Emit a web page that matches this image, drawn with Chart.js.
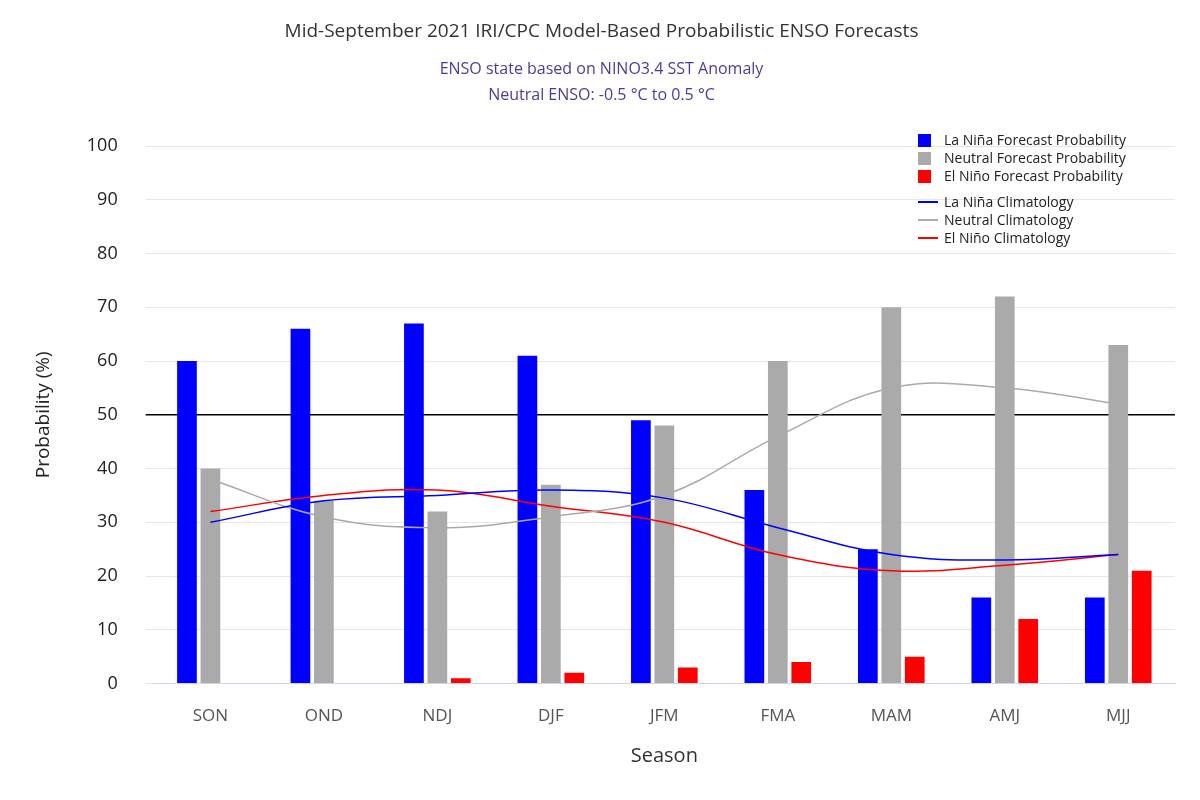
<!DOCTYPE html>
<html><head><meta charset="utf-8">
<script src="https://cdn.jsdelivr.net/npm/chart.js@4"></script>
<style>
body{margin:0;background:#fff;font-family:"Open Sans",sans-serif;}
#wrap{position:relative;width:1200px;height:800px;}
#legend{position:absolute;left:918px;top:131px;font-size:14px;color:#222;line-height:18px;}
#legend div{display:flex;align-items:center;}
.sq{width:13px;height:13px;margin-right:13px;}
.ln{width:20px;height:2px;margin-right:6px;}
</style></head><body>
<div id="wrap"><canvas id="c" width="1200" height="800"></canvas>
<div id="legend">
<div><span class="sq" style="background:#0000ff"></span>La Niña Forecast Probability</div>
<div><span class="sq" style="background:#aaaaaa"></span>Neutral Forecast Probability</div>
<div><span class="sq" style="background:#ff0000"></span>El Niño Forecast Probability</div>
<div style="height:8px"></div>
<div><span class="ln" style="background:#0000ff"></span>La Niña Climatology</div>
<div><span class="ln" style="background:#aaaaaa"></span>Neutral Climatology</div>
<div><span class="ln" style="background:#ff0000"></span>El Niño Climatology</div>
</div></div>
<script>
// Data
const seasons = ['SON','OND','NDJ','DJF','JFM','FMA','MAM','AMJ','MJJ'];
const laNina = [60, 66, 67, 61, 49, 36, 25, 16, 16];
const neutral = [40, 34, 32, 37, 48, 60, 70, 72, 63];
const elNino = [0, 0, 1, 2, 3, 4, 5, 12, 21];
const laNinaClim = [30, 34, 35, 36, 34.5, 29, 24, 23, 24];
const neutralClim = [38, 31, 29, 31, 35, 46, 55, 55, 52];
const elNinoClim = [32, 35, 36, 33, 30, 24, 21, 22, 24];

const line = (data, color) => ({
    type: 'line', data, borderColor: color, borderWidth: 1.5,
    pointRadius: 0, tension: 0.4, fill: false, order: 0
});
const bar = (data, color) => ({
    type: 'bar', data, backgroundColor: color,
    categoryPercentage: 0.62, barPercentage: 0.84, order: 1
});

new Chart(document.getElementById('c'), {
    data: {
        labels: seasons,
        datasets: [
            bar(laNina, '#0000ff'), bar(neutral, '#aaaaaa'), bar(elNino, '#ff0000'),
            line(laNinaClim, '#0000ff'), line(neutralClim, '#aaaaaa'), line(elNinoClim, '#ff0000')
        ]
    },
    options: {
        responsive: false, animation: false,
        layout: { padding: { left: 28, right: 25, top: 10, bottom: 28 } },
        plugins: {
            legend: { display: false },
            tooltip: { enabled: false },
            title: {
                display: true, text: 'Mid-September 2021 IRI/CPC Model-Based Probabilistic ENSO Forecasts',
                color: '#333', font: { family: 'Open Sans', size: 19, weight: 'normal' }, padding: { top: 10, bottom: 14 }
            },
            subtitle: {
                display: true, text: ['ENSO state based on NINO3.4 SST Anomaly', 'Neutral ENSO: -0.5 °C to 0.5 °C'],
                color: '#4b3c9c', font: { family: 'Open Sans', size: 16, lineHeight: 1.6 }, padding: { bottom: 38 }
            }
        },
        scales: {
            x: {
                grid: { display: false },
                border: { color: '#ccd6eb' },
                ticks: { color: '#555', font: { family: 'Open Sans', size: 17 }, padding: 14 },
                title: { display: true, text: 'Season', color: '#333', font: { family: 'Open Sans', size: 20 } }
            },
            y: {
                min: 0, max: 100,
                border: { display: false },
                grid: {
                    color: c => c.tick.value === 50 ? '#000' : '#e6e6e6',
                    lineWidth: c => c.tick.value === 50 ? 1.5 : 1
                },
                ticks: { stepSize: 10, color: '#222', font: { family: 'Open Sans', size: 18 }, padding: 28 },
                title: { display: true, text: 'Probability (%)', color: '#222', font: { family: 'Open Sans', size: 19 } }
            }
        }
    }
});
</script></body></html>
